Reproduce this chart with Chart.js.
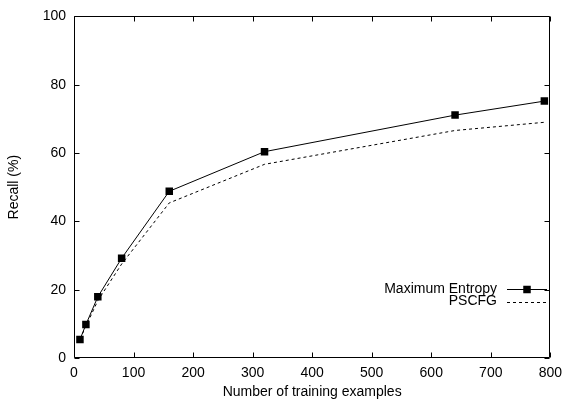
<!DOCTYPE html>
<html>
<head>
<meta charset="utf-8">
<script src="https://cdn.jsdelivr.net/npm/chart.js@4.4.0/dist/chart.umd.min.js"></script>
<style>
html,body{margin:0;padding:0;background:#fff;}
#wrap{width:569px;height:404px;position:relative;}
</style>
</head>
<body>
<div id="wrap"><canvas id="c" width="569" height="404"></canvas></div>
<script>
const trainingExamples = [10, 20, 40, 80, 160, 320, 640, 790];
const maxEntropyRecall = [5.4, 9.8, 17.9, 29.2, 48.8, 60.4, 71.1, 75.2];
const pscfgRecall = [5.5, 9.3, 16.8, 27.5, 45.4, 56.7, 66.6, 69.0];
const xTickValues = [0, 100, 200, 300, 400, 500, 600, 700, 800];
const yTickValues = [0, 20, 40, 60, 80, 100];
const seriesNames = ['Maximum Entropy', 'PSCFG'];
const xTitle = 'Number of training examples';
const yTitle = 'Recall (%)';

const FONT = 'Liberation Sans, Arial, Helvetica, sans-serif';
const FS = 14;

const framePlugin = {
  id: 'frame',
  afterDatasetsDraw(chart) {
    const ctx = chart.ctx;
    const a = chart.chartArea;
    const xs = chart.scales.x, ys = chart.scales.y;
    const L = Math.round(a.left) + 0.5, R = Math.round(a.right) - 0.5;
    const T = Math.round(a.top) + 0.5, B = Math.round(a.bottom) - 0.5;
    ctx.save();
    ctx.strokeStyle = '#000';
    ctx.lineWidth = 1;
    ctx.setLineDash([]);
    ctx.beginPath();
    ctx.rect(L, T, R - L, B - T);
    const tl = 5;
    xTickValues.forEach(v => {
      const px = Math.round(xs.getPixelForValue(v)) + 0.5;
      ctx.moveTo(px, B); ctx.lineTo(px, B - tl);
      ctx.moveTo(px, T); ctx.lineTo(px, T + tl);
    });
    yTickValues.forEach(v => {
      const py = Math.round(ys.getPixelForValue(v)) + 0.5;
      ctx.moveTo(L, py); ctx.lineTo(L + tl, py);
      ctx.moveTo(R, py); ctx.lineTo(R - tl, py);
    });
    ctx.stroke();

    // legend (gnuplot style: text right-aligned, sample to the right)
    ctx.font = FS + 'px ' + FONT;
    ctx.fillStyle = '#000';
    ctx.textAlign = 'right';
    ctx.textBaseline = 'middle';
    const tx = 497, sx0 = 507, sx1 = 547;
    const y1 = 289.5, y2 = 302.5;
    ctx.fillText(seriesNames[0], tx, y1);
    ctx.fillText(seriesNames[1], tx, y2 - 1);
    ctx.beginPath();
    ctx.moveTo(sx0, y1); ctx.lineTo(sx1, y1);
    ctx.stroke();
    ctx.fillRect(527 - 3.75, y1 - 3.75, 7.5, 7.5);
    ctx.setLineDash([3, 3]);
    ctx.beginPath();
    ctx.moveTo(sx0, y2); ctx.lineTo(sx1, y2);
    ctx.stroke();
    ctx.restore();
  }
};

new Chart(document.getElementById('c'), {
  type: 'line',
  data: {
    datasets: [
      {
        label: seriesNames[1],
        data: trainingExamples.map((x, i) => ({x, y: pscfgRecall[i]})),
        borderColor: '#000',
        borderWidth: 1,
        borderDash: [3, 3],
        pointRadius: 0,
        tension: 0,
        fill: false
      },
      {
        label: seriesNames[0],
        data: trainingExamples.map((x, i) => ({x, y: maxEntropyRecall[i]})),
        borderColor: '#000',
        backgroundColor: '#000',
        borderWidth: 1,
        pointStyle: 'rect',
        pointRadius: 5.3,
        pointBorderWidth: 0,
        tension: 0,
        fill: false
      }
    ]
  },
  options: {
    responsive: false,
    animation: false,
    devicePixelRatio: 1,
    layout: {padding: {left: 0, right: 15, top: 14, bottom: 0}},
    plugins: {legend: {display: false}, tooltip: {enabled: false}},
    scales: {
      x: {
        type: 'linear', min: 0, max: 800,
        afterFit(s) { s.height = 46; },
        afterBuildTicks(s) { s.ticks = xTickValues.map(v => ({value: v})); },
        grid: {display: false, drawTicks: false},
        border: {display: false},
        ticks: {color: '#000', padding: 7, maxRotation: 0, autoSkip: false, font: {family: FONT, size: FS}},
        title: {display: true, text: xTitle, color: '#000', padding: {top: 0, bottom: 3}, font: {family: FONT, size: FS}}
      },
      y: {
        type: 'linear', min: 0, max: 100,
        afterFit(s) { s.width = 74; },
        afterBuildTicks(s) { s.ticks = yTickValues.map(v => ({value: v})); },
        grid: {display: false, drawTicks: false},
        border: {display: false},
        ticks: {color: '#000', padding: 8, autoSkip: false, font: {family: FONT, size: FS}},
        title: {display: true, text: yTitle, color: '#000', padding: {top: 6, bottom: 0}, font: {family: FONT, size: FS}}
      }
    }
  },
  plugins: [framePlugin]
});
</script>
</body>
</html>
